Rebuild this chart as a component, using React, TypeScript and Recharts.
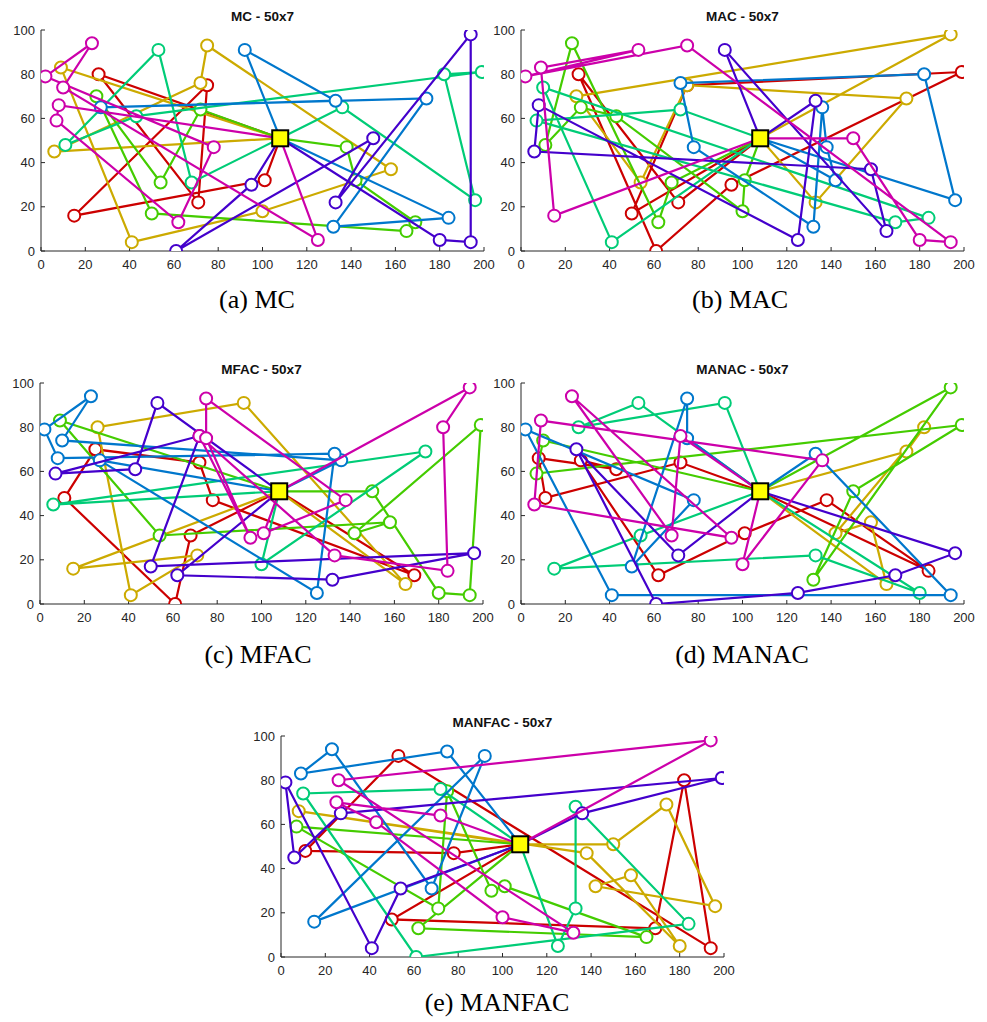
import { Scatter, ScatterChart, XAxis, YAxis } from "recharts"

type Pt = number[]

const DEPOT: Pt = [108, 51]
const X_TICKS = [0, 20, 40, 60, 80, 100, 120, 140, 160, 180, 200]
const Y_TICKS = [0, 20, 40, 60, 80, 100]

// route colours, in drawing order
const ROUTE_COLORS = ["#CC0000", "#CCAA00", "#44CC00", "#00CC77", "#0077CC", "#4400CC", "#CC00AA"]

// each route starts and ends at the depot (added when building the series)
const MC_ROUTES: Pt[][] = [
  [[26, 80], [71, 22], [75, 75], [15, 16], [101, 32]],
  [[6, 45], [72, 76], [75, 93], [158, 37], [100, 18], [41, 4], [9, 83]],
  [[72, 64], [54, 31], [25, 70], [50, 17], [165, 9], [169, 13], [142, 32], [138, 47]],
  [[68, 31], [53, 91], [11, 48], [43, 61], [199, 81], [182, 80], [196, 23], [136, 65]],
  [[92, 91], [133, 68], [27, 65], [174, 69], [132, 11], [184, 15]],
  [[95, 30], [61, 0], [150, 51], [133, 22], [194, 98], [194, 4], [180, 5]],
  [[8, 66], [7, 59], [62, 13], [78, 47], [2, 79], [23, 94], [10, 74], [125, 5]],
]

const MAC_ROUTES: Pt[][] = [
  [[71, 22], [26, 80], [61, 0], [95, 30], [199, 81], [75, 75], [50, 17]],
  [[194, 98], [25, 70], [54, 31], [75, 75], [174, 69], [133, 22]],
  [[101, 32], [100, 18], [43, 61], [27, 65], [11, 48], [23, 94], [62, 13], [68, 31]],
  [[72, 64], [7, 59], [169, 13], [184, 15], [10, 74], [41, 4]],
  [[142, 32], [138, 47], [136, 65], [132, 11], [78, 47], [72, 76], [182, 80], [196, 23]],
  [[92, 91], [165, 9], [158, 37], [6, 45], [8, 66], [125, 5], [133, 68]],
  [[150, 51], [180, 5], [194, 4], [75, 93], [2, 79], [53, 91], [9, 83], [15, 16]],
]

const MFAC_ROUTES: Pt[][] = [
  [[68, 31], [61, 0], [11, 48], [25, 70], [72, 64], [78, 47], [169, 13]],
  [[165, 9], [92, 91], [26, 80], [41, 4], [71, 22], [15, 16]],
  [[9, 83], [54, 31], [158, 37], [142, 32], [199, 81], [194, 4], [180, 5], [150, 51]],
  [[6, 45], [174, 69], [100, 18]],
  [[136, 65], [10, 74], [23, 94], [2, 79], [8, 66], [133, 68], [125, 5], [27, 65]],
  [[53, 91], [43, 61], [7, 59], [72, 76], [50, 17], [196, 23], [132, 11], [62, 13]],
  [[194, 98], [182, 80], [184, 15], [133, 22], [72, 76], [95, 30], [75, 75], [75, 93], [138, 47], [101, 32]],
]

const MANAC_ROUTES: Pt[][] = [
  [[72, 64], [11, 48], [8, 66], [43, 61], [27, 65], [62, 13], [101, 32], [138, 47], [184, 15]],
  [[174, 69], [182, 80], [142, 32], [158, 37], [165, 9]],
  [[10, 74], [7, 59], [199, 81], [150, 51], [132, 11], [194, 98]],
  [[92, 91], [26, 80], [53, 91], DEPOT, [54, 31], [15, 16], [133, 22], [180, 5]],
  [[75, 75], [75, 93], [50, 17], [78, 47], [2, 79], [41, 4], [194, 4], [133, 68]],
  [[71, 22], [25, 70], [61, 0], [125, 5], [169, 13], [196, 23]],
  [[100, 18], [136, 65], [9, 83], [6, 45], [95, 30], [23, 94], [68, 31], [72, 76]],
]

const MANFAC_ROUTES: Pt[][] = [
  [[78, 47], [11, 48], [53, 91], [194, 4], [182, 80], [169, 13], [50, 17]],
  [[8, 66], [138, 47], [180, 5], [158, 37], [142, 32], [196, 23], [174, 69], [150, 51]],
  [[7, 59], [71, 22], [75, 75], [95, 30], [101, 32], [165, 9], [62, 13]],
  [[72, 76], [10, 74], [61, 0], [184, 15], [133, 68], [133, 22], [125, 5]],
  [[75, 93], [9, 83], [23, 94], [68, 31], [92, 91], [15, 16]],
  [[136, 65], [199, 81], [27, 65], [6, 45], [2, 79], [41, 4], [54, 31]],
  [[194, 98], [26, 80], [132, 11], [100, 18], [43, 61], [25, 70], [72, 64]],
]

const PANELS = [
  { title: "MC - 50x7", caption: "(a) MC", routes: MC_ROUTES, left: 41, top: 30, capX: 257, capY: 300 },
  { title: "MAC - 50x7", caption: "(b) MAC", routes: MAC_ROUTES, left: 521, top: 30, capX: 740, capY: 300 },
  { title: "MFAC - 50x7", caption: "(c) MFAC", routes: MFAC_ROUTES, left: 40, top: 383, capX: 258, capY: 655 },
  { title: "MANAC - 50x7", caption: "(d) MANAC", routes: MANAC_ROUTES, left: 521, top: 383, capX: 742, capY: 655 },
  { title: "MANFAC - 50x7", caption: "(e) MANFAC", routes: MANFAC_ROUTES, left: 281, top: 736, capX: 497, capY: 1003 },
]

const PW = 443
const PH = 221
const ML = 45
const MT = 30
const MB = 30
const MR = 15
const AXIS = "#262626"
const tickFont = { fill: AXIS, fontSize: 13, fontFamily: "Liberation Sans, Arial, sans-serif" }

const ring = (color: string) => (props: any) => (
  <circle cx={props.cx} cy={props.cy} r={6} fill="#fff" stroke={color} strokeWidth={2} />
)

const depotBox = (props: any) => (
  <rect x={props.cx - 8} y={props.cy - 8} width={16} height={16} fill="#FFFF00" stroke="#000" strokeWidth={2} />
)

function RoutePanel({ title, routes, left, top }: { title: string; routes: Pt[][]; left: number; top: number }) {
  return (
    <div style={{ position: "absolute", left: left - ML, top: top - MT }}>
      <div
        style={{
          position: "absolute",
          left: ML,
          width: PW,
          top: MT - 21,
          textAlign: "center",
          fontFamily: "Liberation Sans, Arial, sans-serif",
          fontWeight: "bold",
          fontSize: 13.5,
          color: "#111",
          lineHeight: "16px",
        }}
      >
        {title}
      </div>
      <ScatterChart width={PW + ML + MR} height={PH + MT + MB} margin={{ top: MT, right: MR, bottom: 0, left: 0 }}>
        <XAxis
          xAxisId="b"
          type="number"
          dataKey="x"
          domain={[0, 200]}
          ticks={X_TICKS}
          allowDataOverflow
          height={MB}
          stroke={AXIS}
          tickSize={-4}
          tickMargin={13}
          tick={tickFont}
        />
        <XAxis
          xAxisId="t"
          orientation="top"
          type="number"
          dataKey="x"
          domain={[0, 200]}
          ticks={X_TICKS}
          allowDataOverflow
          height={0}
          stroke={AXIS}
          tickSize={-4}
          tick={false}
        />
        <YAxis
          yAxisId="l"
          type="number"
          dataKey="y"
          domain={[0, 100]}
          ticks={Y_TICKS}
          allowDataOverflow
          width={ML}
          stroke={AXIS}
          tickSize={-4}
          tickMargin={10}
          tick={tickFont}
        />
        <YAxis
          yAxisId="r"
          orientation="right"
          type="number"
          dataKey="y"
          domain={[0, 100]}
          ticks={Y_TICKS}
          allowDataOverflow
          width={0}
          stroke={AXIS}
          tickSize={-4}
          tick={false}
        />
        {routes.map((route, i) => (
          <Scatter
            key={i}
            xAxisId="b"
            yAxisId="l"
            data={[DEPOT, ...route, DEPOT].map(([x, y]) => ({ x, y }))}
            line={{ stroke: ROUTE_COLORS[i], strokeWidth: 2.2 }}
            lineType="joint"
            shape={ring(ROUTE_COLORS[i])}
            isAnimationActive={false}
          />
        ))}
        <Scatter
          xAxisId="b"
          yAxisId="l"
          data={[{ x: DEPOT[0], y: DEPOT[1] }]}
          shape={depotBox}
          isAnimationActive={false}
        />
      </ScatterChart>
    </div>
  )
}

export default function App() {
  return (
    <div style={{ position: "absolute", left: 0, top: 0, width: 987, height: 1022, background: "#fff", overflow: "hidden" }}>
      {PANELS.map((p) => (
        <div key={p.title}>
          <RoutePanel title={p.title} routes={p.routes} left={p.left} top={p.top} />
          <div
            style={{
              position: "absolute",
              left: p.capX - 150,
              width: 300,
              top: p.capY - 15,
              textAlign: "center",
              fontFamily: "Liberation Serif, Times New Roman, serif",
              fontSize: 26,
              lineHeight: "30px",
              color: "#000",
            }}
          >
            {p.caption}
          </div>
        </div>
      ))}
    </div>
  )
}
